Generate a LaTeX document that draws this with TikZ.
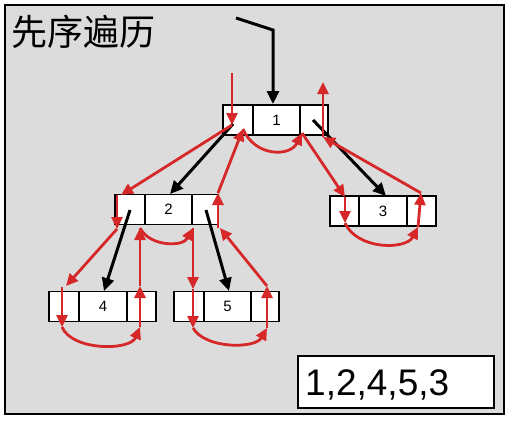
\documentclass[tikz,border=0pt]{standalone}
\usepackage{fontspec}
\setmainfont{Liberation Sans}
\newfontfamily\cjkfont{Noto Sans CJK SC}
\usetikzlibrary{arrows.meta}
\definecolor{frameGray}{RGB}{220,220,220}
\definecolor{travRed}{RGB}{214,40,40}
\begin{document}
\begin{tikzpicture}[x=1pt,y=-1pt,
 cell/.style={draw=black,line width=1.7pt,fill=white,minimum height=30pt,inner sep=0pt,outer sep=0pt,font=\fontsize{15}{15}\selectfont},
 blk/.style={draw=black,line width=3pt,-{Triangle[length=13pt,width=12pt]}},
 trav/.style={draw=travRed,line width=2.8pt,-{Triangle[length=12pt,width=11pt]}}]
\useasboundingbox (0,0) rectangle (517,424);
\draw[fill=frameGray,line width=2pt] (5,5) rectangle (504,414);
\node[anchor=west,inner sep=0pt,font=\cjkfont\fontsize{36}{36}\selectfont] (title) at (11,32) {先序遍历};
% node 1
\node[cell,minimum width=30pt] (n1l) at (238,120) {};
\node[cell,minimum width=47pt] (n1m) at (276.5,120) {1};
\node[cell,minimum width=28pt] (n1r) at (314,120) {};
% node 2
\node[cell,minimum width=30pt] (n2l) at (130,209.5) {};
\node[cell,minimum width=47pt] (n2m) at (168.5,209.5) {2};
\node[cell,minimum width=26pt] (n2r) at (205,209.5) {};
% node 3
\node[cell,minimum width=29pt] (n3l) at (344.5,211) {};
\node[cell,minimum width=48pt] (n3m) at (383,211) {3};
\node[cell,minimum width=29pt] (n3r) at (421.5,211) {};
% node 4
\node[cell,minimum width=30pt] (n4l) at (64,306.5) {};
\node[cell,minimum width=48pt] (n4m) at (103,306.5) {4};
\node[cell,minimum width=29pt] (n4r) at (141.5,306.5) {};
% node 5
\node[cell,minimum width=30pt] (n5l) at (189,306.5) {};
\node[cell,minimum width=47pt] (n5m) at (227.5,306.5) {5};
\node[cell,minimum width=28pt] (n5r) at (265,306.5) {};
% result
\node[draw=black,line width=2pt,fill=white,minimum width=196pt,minimum height=52pt,anchor=north west,inner sep=0pt] (res) at (297,355) {};
\node[anchor=base west,inner sep=0pt,font=\fontsize{37}{37}\selectfont] (restext) at (305,395) {1,2,4,5,3};
% black arrows
\coordinate (top0) at (236,18);
\coordinate (top1) at (273,30);
\coordinate (top2) at (273,104);
\draw[blk] (top0) -- (top1) -- (top2);
\coordinate (b1s) at (233,124); \coordinate (b1e) at (170,194);
\coordinate (b3s) at (313,120); \coordinate (b3e) at (386,196);
\coordinate (b4s) at (130,210); \coordinate (b4e) at (104,291);
\coordinate (b5s) at (206,210); \coordinate (b5e) at (229,291);
\draw[blk] (b1s) -- (b1e);
\draw[blk] (b3s) -- (b3e);
\draw[blk] (b4s) -- (b4e);
\draw[blk] (b5s) -- (b5e);
% red traversal
\coordinate (r0) at (232,73);
\coordinate (r1) at (232,125);
\coordinate (r2) at (121,195);
\coordinate (r2b) at (117,195);
\coordinate (r3) at (117,229);
\coordinate (r4) at (66,286);
\coordinate (r4b) at (62,287);
\coordinate (r5) at (62,327);
\coordinate (r6) at (140,327);
\coordinate (r7) at (140,286);
\coordinate (r8) at (140,228);
\coordinate (r9) at (193,228);
\coordinate (r10) at (193,289);
\coordinate (r11) at (193,328);
\coordinate (r12) at (267,328);
\coordinate (r13) at (267,286);
\coordinate (r14) at (220,228);
\coordinate (r14b) at (218,228);
\coordinate (r15) at (218,193);
\coordinate (r16) at (243,129);
\coordinate (r17) at (302,133);
\coordinate (r18) at (345,197);
\coordinate (r19) at (345,223);
\coordinate (r20) at (418,227);
\coordinate (r21) at (421,193);
\coordinate (r22) at (323,137);
\coordinate (r23) at (323,82);
\draw[trav] (r0) -- (r1);
\draw[trav] (r1) -- (r2);
\draw[trav] (r2b) -- (r3);
\draw[trav] (r3) -- (r4);
\draw[trav] (r4b) -- (r5);
\draw[trav] (r5) .. controls (72,351) and (130,351) .. (r6);
\draw[trav] (r6) -- (r7);
\draw[trav] (r7) -- (r8);
\draw[trav] (r8) .. controls (150,247) and (183,247) .. (r9);
\draw[trav] (r9) -- (r10);
\draw[trav] (r10) -- (r11);
\draw[trav] (r11) .. controls (205,349) and (255,349) .. (r12);
\draw[trav] (r12) -- (r13);
\draw[trav] (r13) -- (r14);
\draw[trav] (r14b) -- (r15);
\draw[trav] (r15) -- (r16);
\draw[trav] (r16) .. controls (255,157) and (290,157) .. (r17);
\draw[trav] (r17) -- (r18);
\draw[trav] (r18) -- (r19);
\draw[trav] (r19) .. controls (357,250) and (406,250) .. (r20);
\draw[trav] (r20) -- (r21);
\draw[trav] (r21) -- (r22);
\draw[trav] (r22) -- (r23);
\end{tikzpicture}
\end{document}
